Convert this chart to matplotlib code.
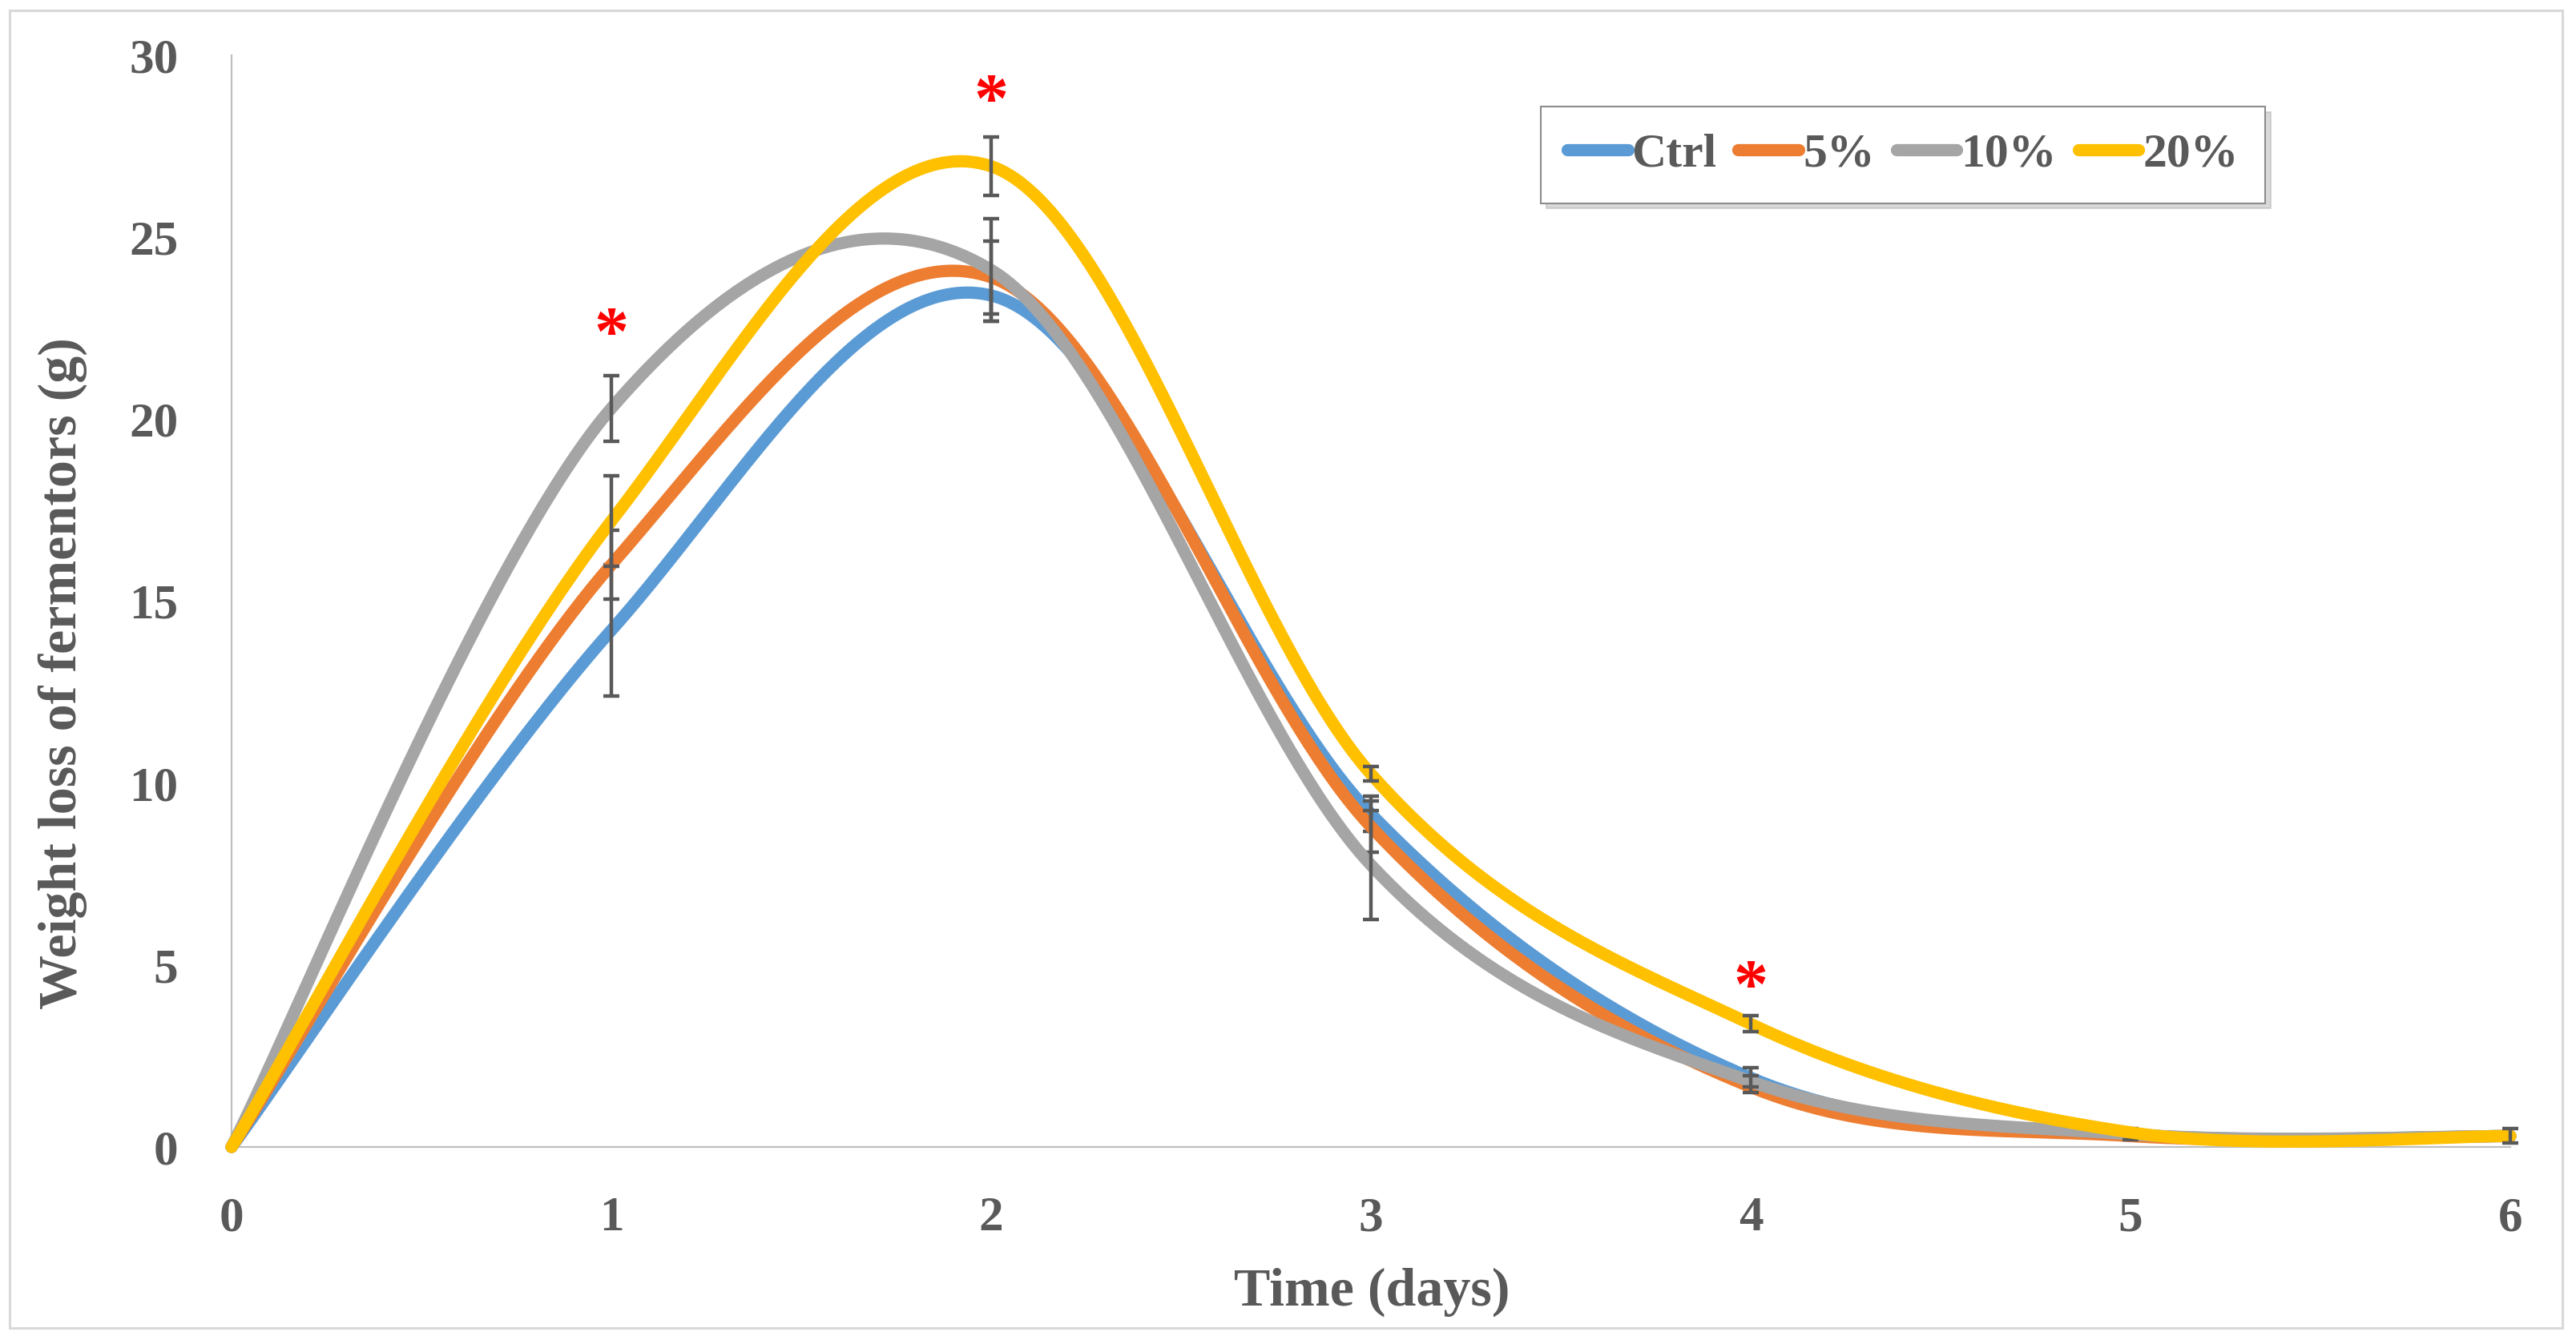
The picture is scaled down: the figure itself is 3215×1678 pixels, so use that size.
import numpy as np
import matplotlib
matplotlib.use("Agg")
import matplotlib.pyplot as plt
from matplotlib.lines import Line2D
from matplotlib.patches import Rectangle
from matplotlib.transforms import offset_copy

# ---------------- data ----------------
days = [0, 1, 2, 3, 4, 5, 6]
series_names = ["Ctrl", "5%", "10%", "20%"]
ctrl = [0, 14.2, 23.4, 9.15, 1.9, 0.35, 0.3]
p5 = [0, 16.0, 23.9, 8.8, 1.65, 0.3, 0.3]
p10 = [0, 20.3, 24.1, 7.75, 1.8, 0.35, 0.3]
p20 = [0, 17.2, 26.95, 10.25, 3.38, 0.4, 0.3]
ctrl_err = [0, 1.8, 0.7, 0.48, 0.28, 0, 0]
p5_err = [0, 0.95, 1.0, 0.7, 0.15, 0, 0]
p10_err = [0, 0.9, 1.4, 1.5, 0.15, 0.15, 0]
p20_err = [0, 1.25, 0.8, 0.2, 0.22, 0, 0.2]
colors = ["#5B9BD5", "#ED7D31", "#A5A5A5", "#FFC000"]
star_days = [1, 2, 4]
star_levels = [22.66, 29.06, 4.73]
x_ticks = [0, 1, 2, 3, 4, 5, 6]
y_ticks = [0, 5, 10, 15, 20, 25, 30]

values = [ctrl, p5, p10, p20]
errors = [ctrl_err, p5_err, p10_err, p20_err]


def excel_smooth(xs, ys, n=80):
    P = np.column_stack([np.asarray(xs, float), np.asarray(ys, float)])
    out = []
    for i in range(len(P) - 1):
        p0 = P[i - 1] if i > 0 else P[i]
        p1 = P[i]
        p2 = P[i + 1]
        p3 = P[i + 2] if i + 2 < len(P) else P[i + 1]
        c1 = p1 + (p2 - p0) / 6.0
        c2 = p2 - (p3 - p1) / 6.0
        t = np.linspace(0, 1, n)[:, None]
        seg = ((1 - t) ** 3) * p1 + 3 * ((1 - t) ** 2) * t * c1 + 3 * (1 - t) * t ** 2 * c2 + t ** 3 * p2
        out.append(seg if i == 0 else seg[1:])
    return np.vstack(out)


FONT = "Liberation Serif"
TXT = "#595959"

W, H = 3215, 1678
fig = plt.figure(figsize=(W / 100, H / 100), dpi=100)
fig.patch.set_facecolor("white")

# chart-area border
fig.add_artist(Rectangle((12 / W, 1 - 1658 / H), (3198 - 12) / W, (1658 - 13) / H,
                         transform=fig.transFigure, fill=False, edgecolor="#d9d9d9", lw=2.2))

ax = fig.add_axes([289 / W, 1 - 1432 / H, (3133 - 289) / W, (1432 - 69) / H])
ax.set_xlim(0, 6)
ax.set_ylim(0, 30)

for i, (vals, errs, col, name) in enumerate(zip(values, errors, colors, series_names)):
    sm = excel_smooth(days, vals)
    ax.plot(sm[:, 0], sm[:, 1], color=col, lw=11, solid_capstyle="round",
            solid_joinstyle="round", clip_on=False, zorder=3 + 2 * i, label=name)
    e = np.asarray(errs)
    m = e > 0
    ax.errorbar(np.asarray(days)[m], np.asarray(vals)[m], yerr=e[m], fmt="none",
                ecolor="#595959", elinewidth=3.2, capsize=7, capthick=3.2,
                zorder=4 + 2 * i, clip_on=False)

star_tr = offset_copy(ax.transData, fig=fig, x=0, y=-19, units="dots")
for sx, sy in zip(star_days, star_levels):
    ax.text(sx, sy, "*", color="red", fontsize=62, fontweight="bold", family=FONT,
            ha="center", va="center", zorder=20, transform=star_tr)

for s in ["top", "right"]:
    ax.spines[s].set_visible(False)
for s in ["left", "bottom"]:
    ax.spines[s].set_color("#bfbfbf")
    ax.spines[s].set_linewidth(1.6)

ax.set_xticks(x_ticks)
ax.set_yticks(y_ticks)
ax.set_xticklabels([str(v) for v in x_ticks])
ax.set_yticklabels([str(v) for v in y_ticks])
ax.tick_params(axis="both", length=0, labelsize=44, labelcolor=TXT)
ax.tick_params(axis="x", pad=44)
ax.tick_params(axis="y", pad=48)
for lab in ax.get_xticklabels() + ax.get_yticklabels():
    lab.set_family(FONT)
    lab.set_fontweight("bold")

fig.text(1712 / W, 1 - 1613 / H, "Time (days)", ha="center", va="center",
         fontsize=49, fontweight="bold", family=FONT, color=TXT)
fig.text(78 / W, 1 - 841 / H, "Weight loss of fermentors (g)", ha="center", va="center",
         rotation=90, fontsize=49, fontweight="bold", family=FONT, color=TXT)

handles = [Line2D([0], [0], color=c, lw=11, solid_capstyle="round") for c in colors]
leg = ax.legend(handles, series_names, loc="upper left",
                bbox_to_anchor=(1923 / W, 1 - 133 / H), bbox_transform=fig.transFigure,
                ncol=4, frameon=True, fancybox=False,
                shadow={"ox": 5, "oy": -5, "color": "#b5b5b5"},
                borderaxespad=0, borderpad=0.55, handlelength=1.27, handletextpad=0.08,
                columnspacing=0.45,
                prop={"family": FONT, "weight": "bold", "size": 43}, labelcolor=TXT)
leg.get_frame().set_edgecolor("#8c8c8c")
leg.get_frame().set_linewidth(1.5)
leg.set_zorder(30)

fig.savefig("out.png", dpi=100)
